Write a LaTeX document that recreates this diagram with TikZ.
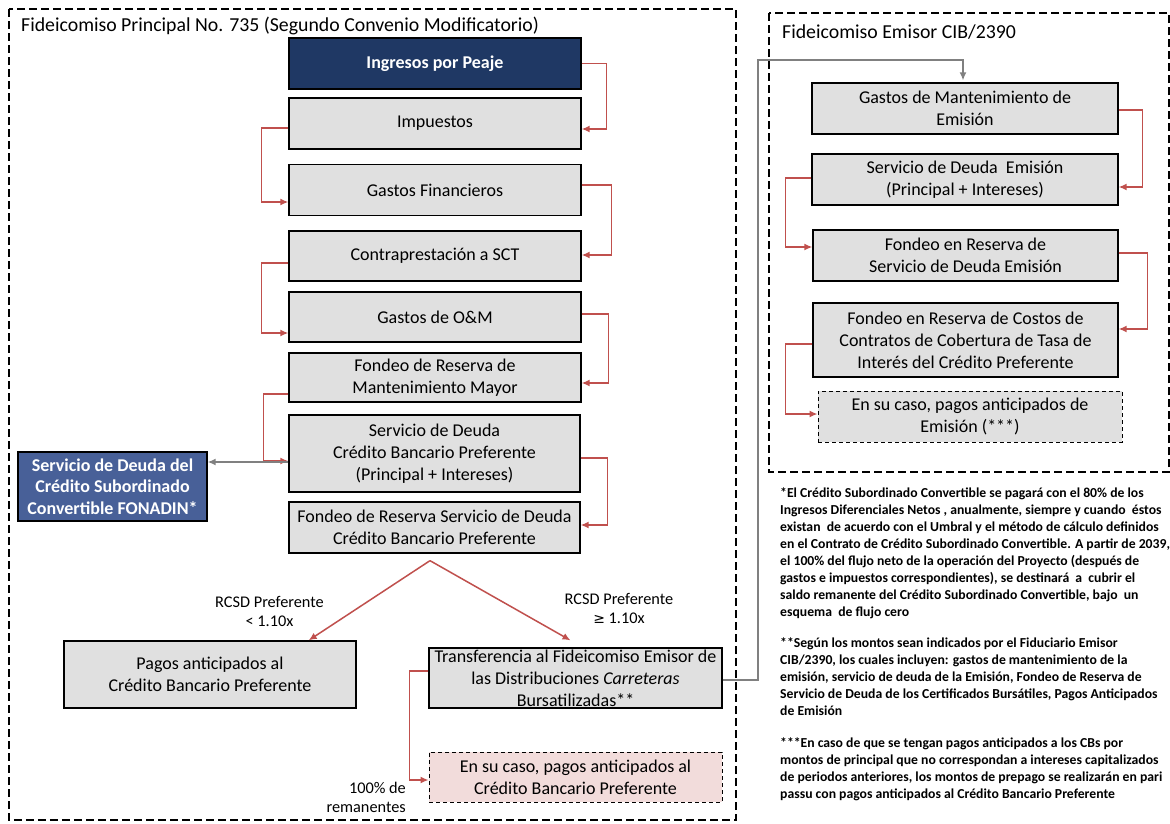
\documentclass[tikz,border=0pt]{standalone}
\usepackage{fontspec}
\setmainfont{Carlito}
\newfontfamily\symfont{DejaVu Sans}
\usetikzlibrary{arrows.meta,calc}
\definecolor{navybox}{RGB}{31,56,100}
\definecolor{steelbox}{RGB}{72,96,152}
\definecolor{boxgray}{RGB}{224,224,224}
\definecolor{pinkbox}{RGB}{242,220,219}
\definecolor{redline}{RGB}{192,80,77}
\definecolor{grayline}{RGB}{128,128,128}
\begin{document}
\begin{tikzpicture}[x=1pt,y=-1pt,
  frame/.style={draw=black,line width=2.4pt,dash pattern=on 8pt off 4pt},
  box/.style={draw=black,line width=1.3pt,fill=boxgray,align=center,inner sep=0pt,
    font=\fontsize{18}{22}\selectfont},
  bluebox/.style={box,fill=navybox,text=white,font=\fontsize{18}{22}\selectfont\bfseries},
  steelstyle/.style={box,fill=steelbox,text=white,font=\fontsize{18}{21.5}\selectfont\bfseries},
  dbox/.style={box,line width=0.9pt,dash pattern=on 4pt off 3pt},
  ra/.style={draw=redline,line width=1.5pt,-{Latex[length=8pt,width=7pt]}},
  ga/.style={draw=grayline,line width=1.5pt,-{Latex[length=8pt,width=7pt]}},
  lbl/.style={align=center,inner sep=0pt,font=\fontsize{16.3}{19}\selectfont},
  note/.style={align=left,anchor=north west,inner sep=0pt,font=\fontsize{13.7}{17}\selectfont\bfseries},
  title/.style={anchor=west,inner sep=0pt,font=\fontsize{19.8}{22}\selectfont}]
\useasboundingbox (0,0) rectangle (1170,823);
\fill[white] (0,0) rectangle (1170,823);
% frames
\draw[frame] (9,9) rectangle (736,820);
\draw[frame] (769,13) rectangle (1169,472);
\node[title] (t1) at (21,26) {Fideicomiso Principal No. 735 (Segundo Convenio Modificatorio)};
\node[title] (t2) at (782,32) {Fideicomiso Emisor CIB/2390};
% left column
\node[bluebox,minimum width=292,minimum height=51] (ing) at (435,63.5) {Ingresos por Peaje};
\node[box,minimum width=292,minimum height=51] (imp) at (435,123.5) {Impuestos};
\node[box,minimum width=292,minimum height=51] (gfin) at (435,190) {Gastos Financieros};
\node[box,minimum width=292,minimum height=50] (sct) at (435,256) {Contraprestación a SCT};
\node[box,minimum width=292,minimum height=50] (om) at (435,317) {Gastos de O\&M};
\node[box,minimum width=292,minimum height=49] (fmm) at (435,377.5) {Fondeo de Reserva de\\Mantenimiento Mayor};
\node[box,minimum width=291,minimum height=77] (sdcb) at (434.5,453.5) {Servicio de Deuda\\Crédito Bancario Preferente\\(Principal + Intereses)};
\node[box,minimum width=291,minimum height=51] (frsd) at (434.5,527.5) {Fondeo de Reserva Servicio de Deuda\\Crédito Bancario Preferente};
\node[steelstyle,minimum width=189,minimum height=69] (fonadin) at (112.5,486.5) {Servicio de Deuda del\\Crédito Subordinado\\Convertible FONADIN*};
\node[box,minimum width=292,minimum height=67] (pagos) at (210,674.5) {Pagos anticipados al\\Crédito Bancario Preferente};
\node[box,minimum width=293,minimum height=60] (transf) at (575.5,678) {Transferencia al Fideicomiso Emisor de\\las Distribuciones \textit{Carreteras}\\Bursatilizadas**};
\node[dbox,fill=pinkbox,minimum width=293,minimum height=50] (pink) at (575.5,777) {En su caso, pagos anticipados al\\Crédito Bancario Preferente};
% labels
\node[lbl] (l1) at (269.5,611) {RCSD Preferente\\< 1.10x};
\node[lbl] (l2) at (619,608) {RCSD Preferente\\{\symfont\fontsize{14}{19}\selectfont ≥} 1.10x};
\node[lbl,align=right,anchor=east] (l3) at (406,797) {100\% de\\remanentes};
% right column
\node[box,minimum width=306,minimum height=51] (gme) at (965,108.5) {Gastos de Mantenimiento de\\Emisión};
\node[box,minimum width=306,minimum height=51] (sde) at (965,179.5) {Servicio de Deuda~~Emisión\\(Principal + Intereses)};
\node[box,minimum width=305,minimum height=51] (frsde) at (965.5,255.5) {Fondeo en Reserva de\\Servicio de Deuda Emisión};
\node[box,minimum width=305,minimum height=74] (frcc) at (965.5,340) {Fondeo en Reserva de Costos de\\Contratos de Cobertura de Tasa de\\Interés del Crédito Preferente};
\node[dbox,minimum width=304,minimum height=51] (pae) at (970,416.5) {En su caso, pagos anticipados de\\Emisión (***)};
% red connectors left
\draw[ra] (ing.east) -- ++(25,0) |- ([yshift=-5.5pt]imp.east);
\draw[ra] ([yshift=-4.5pt]imp.west) -- ++(-27,0) |- ([yshift=-12pt]gfin.west);
\draw[ra] ([yshift=5pt]gfin.east) -- ++(30,0) |- ([yshift=1pt]sct.east);
\draw[ra] ([yshift=-7pt]sct.west) -- ++(-27,0) |- ([yshift=-16pt]om.west);
\draw[ra] ([yshift=3pt]om.east) -- ++(27,0) |- ([yshift=-5.5pt]fmm.east);
\draw[ra] ([yshift=-16.5pt]fmm.west) -- ++(-25,0) |- ([yshift=-7.5pt]sdcb.west);
\draw[ra] ([yshift=-4.5pt]sdcb.east) -- ++(27,0) |- ([yshift=2.5pt]frsd.east);
\draw[ra] ([yshift=7pt]transf.west) -- ++(-19,0) |- ([yshift=-3pt]pink.west);
% split
\coordinate (apex) at ($(frsd.south)+(-4.5,7)$);
\draw[ra] (apex) -- ($(pagos.north east)+(-48,0)$);
\draw[ra] (apex) -- ($(transf.north)+(-5,-7)$);
% red connectors right
\draw[ra] ([yshift=-1.5pt]gme.east) -- ++(24,0) |- ([yshift=-7.5pt]sde.east);
\draw[ra] ([yshift=1.5pt]sde.west) -- ++(-26,0) |- ([yshift=8.5pt]frsde.west);
\draw[ra] ([yshift=2.5pt]frsde.east) -- ++(29,0) |- ([yshift=11pt]frcc.east);
\draw[ra] ([yshift=-4pt]frcc.west) -- ++(-27,0) |- ([yshift=2.5pt]pae.west);
% gray connectors
\draw[ga] ([yshift=-8.5pt]sdcb.west) coordinate (g1) -- (g1 -| fonadin.east);
\coordinate (gc) at (758,60);
\draw[ga,shorten >=2pt] ([yshift=-2pt]transf.east) -| (gc) -| ([xshift=-2pt]gme.north);
% notes
\node[note] (n1) at (780,487) {*El Crédito Subordinado Convertible se pagará con el 80\% de los\\
Ingresos Diferenciales Netos , anualmente, siempre y cuando~ éstos\\
existan~ de acuerdo con el Umbral y el método de cálculo definidos\\
en el Contrato de Crédito Subordinado Convertible. A partir de 2039,\\
el 100\% del flujo neto de la operación del Proyecto (después de\\
gastos e impuestos correspondientes), se destinará~ a~ cubrir el\\
saldo remanente del Crédito Subordinado Convertible, bajo~ un\\
esquema~ de flujo cero};
\node[note] (n2) at (780,637) {**Según los montos sean indicados por el Fiduciario Emisor\\
CIB/2390, los cuales incluyen: gastos de mantenimiento de la\\
emisión, servicio de deuda de la Emisión, Fondeo de Reserva de\\
Servicio de Deuda de los Certificados Bursátiles, Pagos Anticipados\\
de Emisión};
\node[note] (n3) at (780,737) {***En caso de que se tengan pagos anticipados a los CBs por\\
montos de principal que no correspondan a intereses capitalizados\\
de periodos anteriores, los montos de prepago se realizarán en pari\\
passu con pagos anticipados al Crédito Bancario Preferente};
\end{tikzpicture}
\end{document}
